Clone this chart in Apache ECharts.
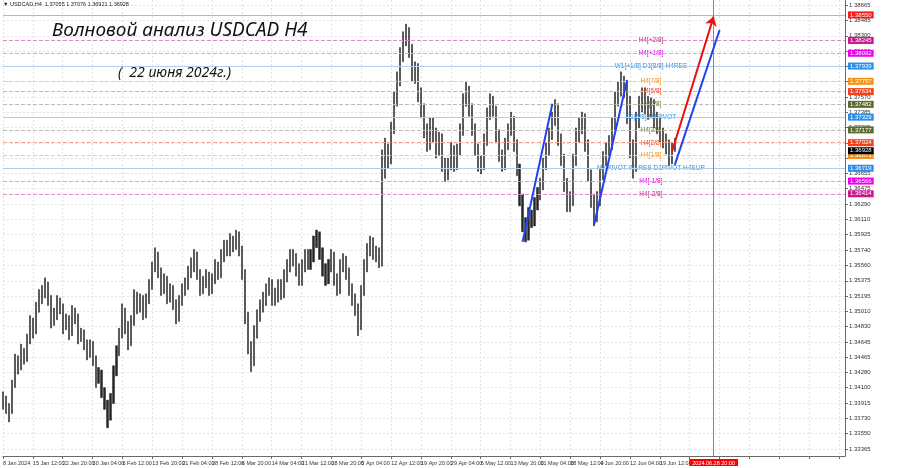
<!DOCTYPE html>
<html><head><meta charset="utf-8">
<script src="https://cdn.jsdelivr.net/npm/echarts@6/dist/echarts.min.js"></script>
<style>html,body{margin:0;padding:0;background:#fff}#c{width:900px;height:468px}</style>
</head><body><div id="c"></div>
<script>
// ---- data ----
const tickLabels = ["8 Jan 2024","15 Jan 12:00","22 Jan 20:00","30 Jan 04:00","6 Feb 12:00","13 Feb 20:00","21 Feb 04:00","28 Feb 12:00","6 Mar 20:00","14 Mar 04:00","21 Mar 12:00","28 Mar 20:00","5 Apr 04:00","12 Apr 12:00","19 Apr 20:00","29 Apr 04:00","6 May 12:00","13 May 20:00","21 May 04:00","28 May 12:00","4 Jun 20:00","12 Jun 04:00","19 Jun 12:00"];
const yGridValues = [1.38665,1.38485,1.38300,1.38120,1.37935,1.37755,1.37570,1.37385,1.37205,1.37020,1.36840,1.36655,1.36475,1.36290,1.36110,1.35925,1.35740,1.35560,1.35375,1.35195,1.35010,1.34830,1.34645,1.34465,1.34280,1.34100,1.33915,1.33730,1.33550,1.33365];
const yLabelValues = [1.38665,1.38485,1.38300,1.38120,1.37570,1.37385,1.37205,1.36655,1.36475,1.36290,1.36110,1.35925,1.35740,1.35560,1.35375,1.35195,1.35010,1.34830,1.34645,1.34465,1.34280,1.34100,1.33915,1.33730,1.33550,1.33365];

const highs = [
1.3405,1.3400,1.3391,1.3419,1.3450,1.3448,1.3462,1.3457,1.3474,1.3496,
1.3493,1.3512,1.3527,1.3532,1.3541,1.3536,1.3520,1.3505,1.3520,1.3517,
1.3510,1.3498,1.3496,1.3508,1.3505,1.3498,1.3481,1.3479,1.3467,1.3467,
1.3465,1.3448,1.3434,1.3431,1.3410,1.3395,1.3403,1.3436,1.3460,1.3481,
1.3510,1.3505,1.3489,1.3496,1.3527,1.3524,1.3522,1.3520,1.3522,1.3539,
1.3560,1.3577,1.3572,1.3553,1.3546,1.3543,1.3534,1.3532,1.3515,1.3520,
1.3534,1.3541,1.3555,1.3565,1.3575,1.3572,1.3551,1.3543,1.3551,1.3548,
1.3546,1.3563,1.3560,1.3575,1.3586,1.3586,1.3594,1.3591,1.3598,1.3596,
1.3579,1.3551,1.3500,1.3465,1.3484,1.3503,1.3515,1.3524,1.3534,1.3541,
1.3539,1.3529,1.3539,1.3539,1.3551,1.3563,1.3575,1.3575,1.3570,1.3558,
1.3563,1.3575,1.3575,1.3575,1.3591,1.3598,1.3596,1.3577,1.3558,1.3563,
1.3575,1.3572,1.3546,1.3563,1.3570,1.3567,1.3553,1.3534,1.3522,1.3510,
1.3532,1.3563,1.3582,1.3591,1.3589,1.3579,1.3577,1.3694,1.3708,1.3701,
1.3727,1.3763,1.3787,1.3816,1.3835,1.3844,1.3840,1.3820,1.3799,1.3797,
1.3768,1.3749,1.3725,1.3732,1.3732,1.3720,1.3715,1.3713,1.3684,1.3684,
1.3703,1.3699,1.3701,1.3725,1.3761,1.3775,1.3770,1.3749,1.3725,1.3701,
1.3687,1.3713,1.3744,1.3761,1.3758,1.3746,1.3718,1.3694,1.3708,1.3725,
1.3739,1.3734,1.3706,1.3677,1.3641,1.3613,1.3625,1.3622,1.3637,1.3649,
1.3660,1.3684,1.3703,1.3720,1.3739,1.3754,1.3749,1.3713,1.3689,1.3660,
1.3644,1.3689,1.3720,1.3732,1.3739,1.3737,1.3706,1.3670,1.3641,1.3644,
1.3672,1.3692,1.3703,1.3711,1.3732,1.3763,1.3775,1.3787,1.3782,1.3777,
1.3758,1.3706,1.3739,1.3758,1.3768,1.3768,1.3758,1.3756,1.3754,1.3739,
1.3732,1.3720,1.3713,1.3706,1.3703,1.3708];
const lows = [
1.3384,1.3379,1.3369,1.3379,1.3410,1.3426,1.3431,1.3438,1.3441,1.3462,
1.3469,1.3474,1.3500,1.3510,1.3517,1.3508,1.3481,1.3484,1.3491,1.3498,
1.3474,1.3479,1.3467,1.3472,1.3486,1.3462,1.3465,1.3455,1.3443,1.3446,
1.3436,1.3410,1.3415,1.3398,1.3384,1.3362,1.3371,1.3391,1.3424,1.3448,
1.3469,1.3474,1.3455,1.3460,1.3484,1.3498,1.3500,1.3491,1.3493,1.3510,
1.3527,1.3548,1.3541,1.3520,1.3522,1.3510,1.3512,1.3503,1.3486,1.3489,
1.3508,1.3520,1.3527,1.3541,1.3548,1.3539,1.3520,1.3522,1.3529,1.3520,
1.3522,1.3534,1.3539,1.3541,1.3560,1.3567,1.3567,1.3572,1.3575,1.3567,
1.3539,1.3486,1.3450,1.3429,1.3436,1.3469,1.3489,1.3500,1.3508,1.3520,
1.3508,1.3508,1.3512,1.3515,1.3517,1.3536,1.3548,1.3555,1.3543,1.3532,
1.3532,1.3548,1.3551,1.3551,1.3560,1.3577,1.3563,1.3543,1.3532,1.3534,
1.3548,1.3532,1.3520,1.3522,1.3548,1.3539,1.3520,1.3508,1.3496,1.3472,
1.3479,1.3520,1.3548,1.3567,1.3563,1.3560,1.3553,1.3555,1.3660,1.3672,
1.3677,1.3713,1.3746,1.3770,1.3799,1.3818,1.3804,1.3775,1.3773,1.3751,
1.3732,1.3708,1.3692,1.3694,1.3703,1.3684,1.3687,1.3668,1.3656,1.3658,
1.3670,1.3668,1.3670,1.3687,1.3711,1.3746,1.3734,1.3711,1.3687,1.3668,
1.3665,1.3670,1.3699,1.3730,1.3734,1.3703,1.3680,1.3668,1.3670,1.3694,
1.3711,1.3692,1.3663,1.3627,1.3596,1.3584,1.3586,1.3601,1.3603,1.3622,
1.3634,1.3646,1.3670,1.3687,1.3706,1.3723,1.3699,1.3675,1.3644,1.3620,
1.3620,1.3627,1.3675,1.3703,1.3713,1.3692,1.3656,1.3625,1.3603,1.3608,
1.3627,1.3658,1.3675,1.3687,1.3694,1.3718,1.3746,1.3758,1.3756,1.3725,
1.3684,1.3660,1.3668,1.3720,1.3739,1.3737,1.3730,1.3732,1.3720,1.3713,
1.3703,1.3696,1.3689,1.3675,1.3677,1.3692];

const levelPrices = [1.38550,1.38245,1.38092,1.37939,1.37757,1.37634,1.37482,1.37329,1.37177,1.37024,1.36871,1.36719,1.36566,1.36414];
const levelNames = ["","H4[+2/8]","H4[+1/8]","W1[+1/8] D1[8/8] H4RES","H4[7/8]","H4[6/8]","H4[5/8]","D1[6/8] H4PIVOT","H4[3/8]","H4[2/8]","H4[1/8]","MNPIVOT W1RES D1PIVOT H4SUP","H4[-1/8]","H4[-2/8]"];
const currentPrice = 1.36928;
const blueTrends = [[[174,1.3584],[184,1.3749]],[[198,1.3605],[209,1.3777]],[[225,1.3676],[240,1.3837]]];
const redTrend = [[224,1.3691],[238,1.3853]];
const futureIndex = 238;
const futureLabel = "2024.06.28 20:00";
const levelTextIndex = 217;
const categoryCount = 283;
const headerText = "\u25BC USDCAD,H4  1.37055 1.37076 1.36921 1.36928";
const titleText = "Волновой анализ USDCAD H4";
const subTitleText = "(  22 июня 2024г.)";

// ---- styles (separate from data) ----
const levelStyles = [
 {line:'#f3a0a0',type:'solid', badge:'#ff1a1a', text:'#ff1a1a'},
 {line:'#e38ac4',type:'dashed',badge:'#c8198c', text:'#c8198c'},
 {line:'#fb8cfb',type:'dashed',badge:'#f000f0', text:'#e000e0'},
 {line:'#a9d0f2',type:'solid', badge:'#2d8ee6', text:'#2d8ee6'},
 {line:'#f7c98e',type:'dashed',badge:'#f2921a', text:'#f2921a'},
 {line:'#f2a595',type:'dashed',badge:'#f0401c', text:'#f0401c'},
 {line:'#bdbdac',type:'dashed',badge:'#5b6b2e', text:'#6b7b2e'},
 {line:'#a9d0f2',type:'solid', badge:'#2d8ee6', text:'#2d8ee6'},
 {line:'#bdbdac',type:'dashed',badge:'#5b6b2e', text:'#6b7b2e'},
 {line:'#f2a595',type:'dashed',badge:'#f0401c', text:'#f0401c'},
 {line:'#f7c98e',type:'dashed',badge:'#f2921a', text:'#f2921a'},
 {line:'#a9d0f2',type:'solid', badge:'#2d8ee6', text:'#2d8ee6'},
 {line:'#fb8cfb',type:'dashed',badge:'#f000f0', text:'#e000e0'},
 {line:'#e38ac4',type:'dashed',badge:'#c8198c', text:'#c8198c'}
];
const FONT = 'Liberation Sans';

const cats = [];
for (let i = 0; i < categoryCount; i++) cats.push(String(i));
const candles = lows.map((l, i) => [l, highs[i], l, highs[i]]);

function badge(bg, fs) {
  return {show: true, position: 'end', backgroundColor: bg, color: '#fff', fontSize: fs || 6,
          padding: [1, 2, 0, 2], distance: 3, fontFamily: FONT};
}
const levelLines = levelPrices.map((p, k) => ({
  yAxis: p,
  lineStyle: {color: levelStyles[k].line, type: levelStyles[k].type, width: 1},
  label: Object.assign(badge(levelStyles[k].badge), {formatter: p.toFixed(5)})
}));
levelLines.push({
  yAxis: currentPrice, lineStyle: {color: 'rgba(0,0,0,0)', width: 0},
  label: Object.assign(badge('#000'), {formatter: currentPrice.toFixed(5)})
});
const futureLine = [{
  xAxis: futureIndex, lineStyle: {color: '#ff5a5a', type: 'solid', width: 1},
  label: {show: true, position: 'start', formatter: futureLabel, backgroundColor: '#ff0000',
          color: '#fff', fontSize: 5.5, padding: [1, 3, 0, 3], distance: 3, fontFamily: FONT}
}];

const levelTexts = levelPrices.map((p, k) => ({
  value: [levelTextIndex, p],
  label: {color: levelStyles[k].text},
  name: levelNames[k]
})).filter(d => d.name);

const series = [
  {
    type: 'line', data: [], silent: true, animation: false, z: 1,
    markLine: {symbol: ['none', 'none'], precision: 5, silent: true, animation: false, data: levelLines}
  },
  {
    type: 'line', data: [], silent: true, animation: false, z: 1,
    markLine: {symbol: ['none', 'none'], precision: 5, silent: true, animation: false, data: futureLine}
  },
  {
    type: 'candlestick', data: candles, barWidth: 1.6, silent: true, animation: false,
    itemStyle: {color: '#262626', color0: '#262626', borderColor: '#262626', borderColor0: '#262626', borderWidth: 0.5},
    z: 3
  },
  {
    type: 'scatter', data: levelTexts, symbolSize: 1, silent: true, animation: false,
    itemStyle: {color: 'rgba(0,0,0,0)'},
    label: {show: true, position: 'inside', formatter: p => p.name, fontSize: 6.5, fontFamily: FONT,
            textBorderWidth: 0, textShadowBlur: 0, opacity: 1},
    z: 4
  }
];
blueTrends.forEach(t => series.push({
  type: 'line', data: t, symbol: 'none', silent: true, animation: false,
  lineStyle: {color: '#2340f0', width: 2}, z: 5
}));
series.push({
  type: 'line', data: [], silent: true, animation: false, z: 6,
  markLine: {symbol: ['none', 'arrow'], symbolSize: 9, precision: 5, silent: true, animation: false,
    lineStyle: {color: '#ee1010', width: 2, type: 'solid'}, label: {show: false},
    data: [[{coord: redTrend[0]}, {coord: redTrend[1]}]]}
});

const chart = echarts.init(document.getElementById('c'), null, {renderer: 'canvas'});
chart.setOption({
  animation: false,
  backgroundColor: '#fff',
  grid: {left: 0, right: 55, top: 0, bottom: 12, containLabel: false},
  xAxis: {
    type: 'category', data: cats, boundaryGap: false,
    axisLine: {show: true, lineStyle: {color: '#6a6a6a', width: 1}},
    axisTick: {show: true, interval: 9, length: 3, lineStyle: {color: '#6a6a6a'}},
    axisLabel: {interval: 9, showMinLabel: true, fontSize: 5.5, color: '#333', align: 'left', margin: 4, fontFamily: FONT,
      formatter: (v) => { const n = Number(v); return (n % 10 === 0 && tickLabels[n / 10]) ? tickLabels[n / 10] : ''; }},
    splitLine: {show: true, interval: 9, lineStyle: {color: '#e2e2e2', type: [2, 2], width: 1}}
  },
  yAxis: {
    type: 'value', position: 'right', min: 1.33283, max: 1.38728, scale: true,
    axisLine: {show: true, lineStyle: {color: '#6a6a6a', width: 1}},
    axisTick: {show: true, length: 3, customValues: yGridValues, lineStyle: {color: '#6a6a6a'}},
    axisLabel: {customValues: yLabelValues, fontSize: 6, color: '#333', margin: 4, fontFamily: FONT,
      formatter: v => v.toFixed(5)},
    splitLine: {show: true, lineStyle: {color: '#e2e2e2', type: [2, 2], width: 1}}
  },
  graphic: [
    {type: 'text', left: 3, top: 1, z: 10, style: {text: headerText, fontSize: 5.5, fill: '#222', fontFamily: FONT}},
    {type: 'text', left: 52, top: 21, z: 10, style: {text: titleText, fontSize: 19, fill: '#111', fontStyle: 'italic', fontFamily: 'Noto Sans'}},
    {type: 'text', left: 118, top: 66, z: 10, style: {text: subTitleText, fontSize: 14, fill: '#111', fontStyle: 'italic', fontFamily: 'Noto Sans'}}
  ],
  series: series
});
</script>
</body></html>
